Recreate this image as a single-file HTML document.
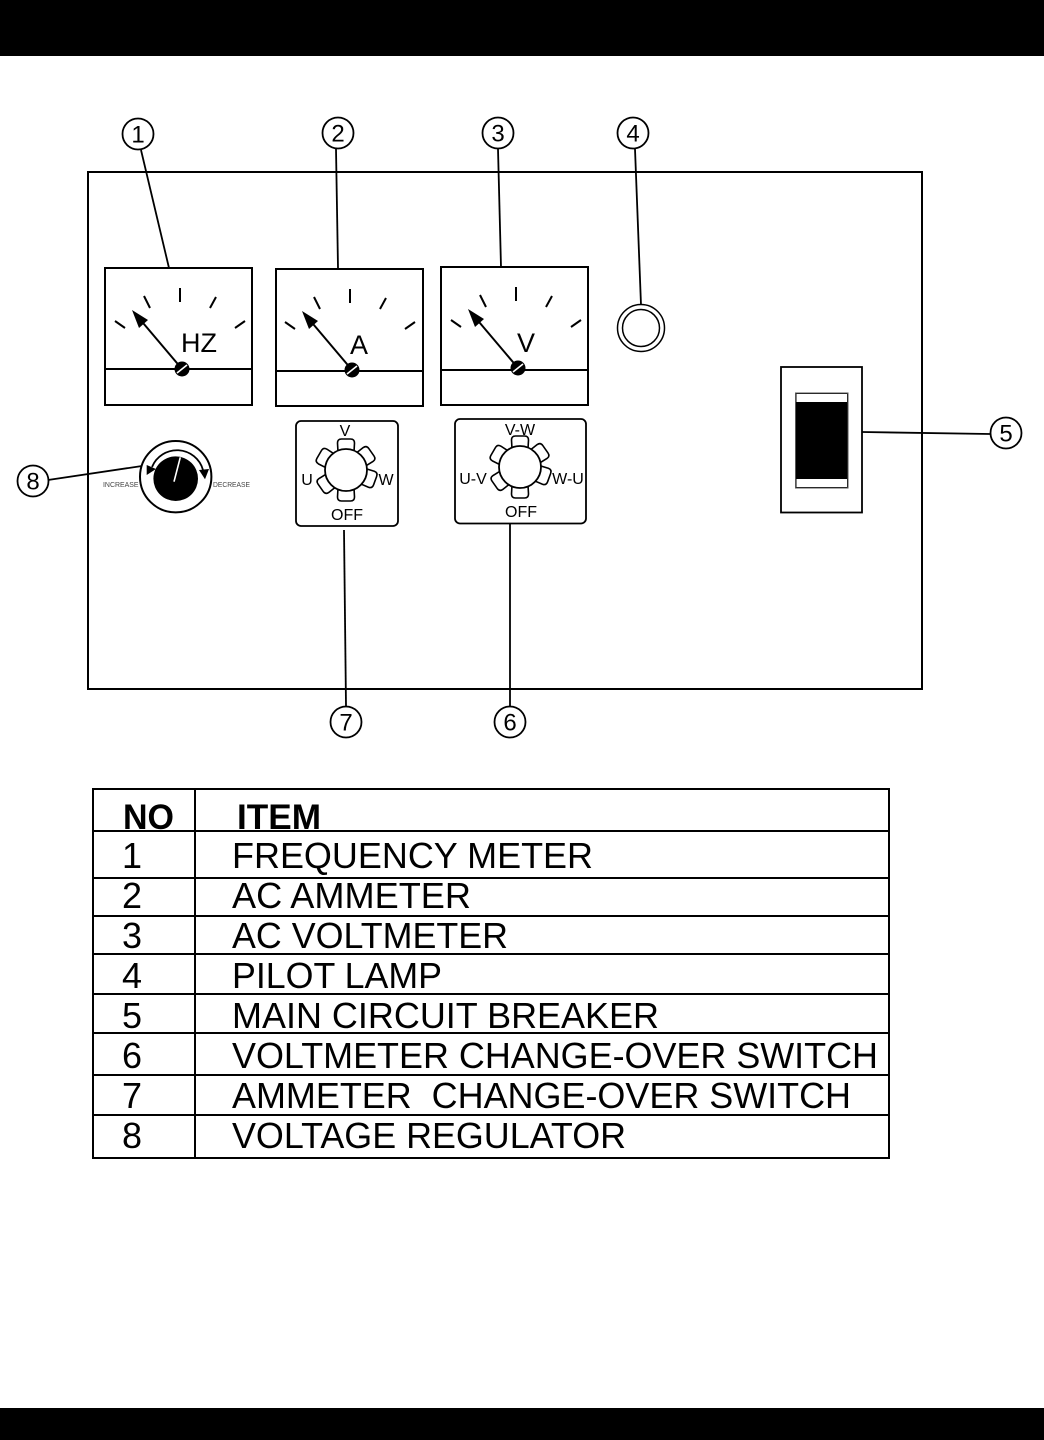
<!DOCTYPE html>
<html>
<head>
<meta charset="utf-8">
<style>
html,body{margin:0;padding:0;background:#fff}
svg{display:block}
text{font-family:"Liberation Sans",sans-serif;fill:#000}
.t{font-size:36px}
.n{font-size:24px;text-anchor:middle}
.s{font-size:16px;text-anchor:middle}
</style>
</head>
<body>
<svg xmlns="http://www.w3.org/2000/svg" width="1044" height="1440" viewBox="0 0 1044 1440">
<defs>
<g id="dial">
<g stroke="#000" stroke-width="2" fill="none">
<path d="M-67-48L-57-41M-38-73L-32-61M-2-81V-67M34-72L28-61M63-48L53-41"/>
<path d="M0 0L-44-52" stroke-width="2"/>
</g>
<path d="M-50-59L-34-49L-43-41Z" fill="#000"/>
<circle r="7.500" fill="#000"/>
<path d="M-5 4L5-4" stroke="#fff" stroke-width="1.6"/>
</g>
<path id="tab" d="M-8-18L-8.500-27Q-8.500-31-4.500-31L4.500-31Q8.500-31 8.500-27L8-18Z" fill="#fff" stroke="#000" stroke-width="1.6" stroke-linejoin="round"/>
<g id="gear">
<use href="#tab"/>
<use href="#tab" transform="rotate(55)"/>
<use href="#tab" transform="rotate(110)"/>
<use href="#tab" transform="rotate(180)"/>
<use href="#tab" transform="rotate(235)"/>
<use href="#tab" transform="rotate(300)"/>
<circle r="21" fill="#fff" stroke="#000" stroke-width="1.8"/>
</g>
</defs>

<rect width="1044" height="1440" fill="#fff"/>
<rect width="1044" height="56" fill="#000"/>
<rect y="1408" width="1044" height="32" fill="#000"/>

<!-- panel -->
<rect x="88" y="172" width="834" height="517" fill="none" stroke="#000" stroke-width="2"/>

<!-- leaders -->
<g stroke="#000" stroke-width="1.8" fill="none">
<path d="M141 150L169 268"/>
<path d="M336 149L338 268"/>
<path d="M498 149L501 267"/>
<path d="M635 149L641 305"/>
<path d="M862 432L990 434"/>
<path d="M510 524V706"/>
<path d="M344 530L346 706"/>
<path d="M48 480L142 466"/>
</g>

<!-- callouts -->
<g fill="#fff" stroke="#000" stroke-width="1.8">
<circle cx="138" cy="134" r="15.500"/>
<circle cx="338" cy="133" r="15.500"/>
<circle cx="498" cy="133" r="15.500"/>
<circle cx="633" cy="133" r="15.500"/>
<circle cx="1006" cy="433" r="15.500"/>
<circle cx="510" cy="722" r="15.500"/>
<circle cx="346" cy="722" r="15.500"/>
<circle cx="33" cy="481" r="15.500"/>
</g>
<text class="n" x="138" y="142.500">1</text>
<text class="n" x="338" y="141.500">2</text>
<text class="n" x="498" y="141.500">3</text>
<text class="n" x="633" y="141.500">4</text>
<text class="n" x="1006" y="441.500">5</text>
<text class="n" x="510" y="730.500">6</text>
<text class="n" x="346" y="730.500">7</text>
<text class="n" x="33" y="489.500">8</text>

<!-- meters -->
<g fill="none" stroke="#000" stroke-width="2">
<rect x="105" y="268" width="147" height="137"/>
<path d="M105 369H252"/>
<rect x="276" y="269" width="147" height="137"/>
<path d="M276 371H423"/>
<rect x="441" y="267" width="147" height="138"/>
<path d="M441 370H588"/>
</g>
<use href="#dial" x="182" y="369"/>
<use href="#dial" x="352" y="370"/>
<use href="#dial" x="518" y="368"/>
<text x="199" y="352" font-size="27" text-anchor="middle">HZ</text>
<text x="359" y="354" font-size="27" text-anchor="middle">A</text>
<text x="526" y="352" font-size="27" text-anchor="middle">V</text>

<!-- lamp -->
<circle cx="641" cy="328" r="23.500" fill="#fff" stroke="#000" stroke-width="1.5"/>
<circle cx="641" cy="328" r="18.500" fill="none" stroke="#000" stroke-width="1.5"/>

<!-- breaker -->
<rect x="781" y="367" width="81" height="145.500" fill="#fff" stroke="#000" stroke-width="1.8"/>
<rect x="795.500" y="393" width="52.500" height="95" fill="#000" stroke="#555" stroke-width="1"/>
<rect x="796.500" y="394" width="50.500" height="8" fill="#fff"/>
<rect x="796.500" y="479" width="50.500" height="8" fill="#fff"/>

<!-- knob -->
<circle cx="175.700" cy="476.700" r="35.700" fill="#fff" stroke="#000" stroke-width="2"/>
<circle cx="175.700" cy="478.700" r="22.300" fill="#000"/>
<path d="M152 467A27 27 0 0 1 203 470" fill="none" stroke="#000" stroke-width="1.8"/>
<path d="M146.700 475L146.700 465L156 469Z" fill="#000"/>
<path d="M205 479.300L199 470L209 469Z" fill="#000"/>
<path d="M174 481.700L180.300 457.300" stroke="#fff" stroke-width="1.6"/>
<text x="103" y="487" font-size="7" style="fill:#444" textLength="35.500" lengthAdjust="spacingAndGlyphs">INCREASE</text>
<text x="213" y="487" font-size="7" style="fill:#444" textLength="37" lengthAdjust="spacingAndGlyphs">DECREASE</text>

<!-- switch 7 -->
<rect x="296" y="421" width="102" height="105" rx="5" fill="#fff" stroke="#000" stroke-width="1.8"/>
<use href="#gear" x="346" y="470"/>
<text class="s" x="345" y="436">V</text>
<text class="s" x="307" y="485">U</text>
<text class="s" x="386" y="485">W</text>
<text class="s" x="347" y="520">OFF</text>

<!-- switch 6 -->
<rect x="455" y="419" width="131" height="104.500" rx="5" fill="#fff" stroke="#000" stroke-width="1.8"/>
<use href="#gear" x="520" y="467"/>
<text class="s" x="520" y="435">V-W</text>
<text class="s" x="473" y="484">U-V</text>
<text class="s" x="568" y="484">W-U</text>
<text class="s" x="521" y="517">OFF</text>

<!-- table -->
<g fill="none" stroke="#000" stroke-width="2">
<rect x="93" y="789" width="796" height="369"/>
<path d="M195 789V1158"/>
<path d="M93 831H889M93 878H889M93 916H889M93 954H889M93 994H889M93 1033H889M93 1075H889M93 1115H889"/>
</g>
<text x="123" y="829" font-size="35" font-weight="bold" textLength="51" lengthAdjust="spacingAndGlyphs">NO</text>
<text x="237" y="829" font-size="35" font-weight="bold" textLength="84" lengthAdjust="spacingAndGlyphs">ITEM</text>
<text class="t" x="122" y="868">1</text>
<text class="t" x="122" y="908">2</text>
<text class="t" x="122" y="948">3</text>
<text class="t" x="122" y="988">4</text>
<text class="t" x="122" y="1028">5</text>
<text class="t" x="122" y="1068">6</text>
<text class="t" x="122" y="1108">7</text>
<text class="t" x="122" y="1148">8</text>
<text class="t" x="232" y="868" textLength="361" lengthAdjust="spacingAndGlyphs">FREQUENCY METER</text>
<text class="t" x="232" y="908" textLength="239" lengthAdjust="spacingAndGlyphs">AC AMMETER</text>
<text class="t" x="232" y="948" textLength="276" lengthAdjust="spacingAndGlyphs">AC VOLTMETER</text>
<text class="t" x="232" y="988" textLength="210" lengthAdjust="spacingAndGlyphs">PILOT LAMP</text>
<text class="t" x="232" y="1028" textLength="427" lengthAdjust="spacingAndGlyphs">MAIN CIRCUIT BREAKER</text>
<text class="t" x="232" y="1068" textLength="646" lengthAdjust="spacingAndGlyphs">VOLTMETER CHANGE-OVER SWITCH</text>
<text class="t" x="232" y="1108" textLength="619" lengthAdjust="spacingAndGlyphs">AMMETER &#160;CHANGE-OVER SWITCH</text>
<text class="t" x="232" y="1148" textLength="394" lengthAdjust="spacingAndGlyphs">VOLTAGE REGULATOR</text>
</svg>
</body>
</html>
